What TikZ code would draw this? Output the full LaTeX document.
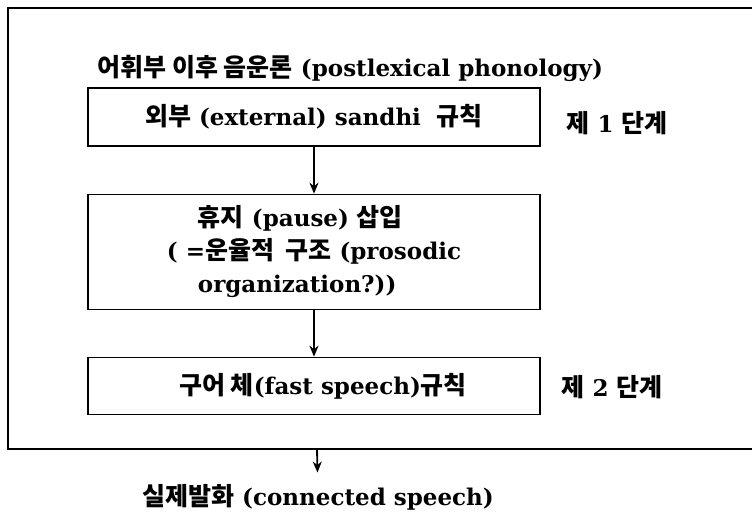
\documentclass[tikz,border=0pt]{standalone}
\usepackage{fontspec}
\setmainfont{DejaVu Serif}
\newfontfamily\krfont{Noto Sans CJK KR Bold}
\newcommand{\kor}[1]{{\krfont\fontsize{25}{33}\selectfont #1}}
\usetikzlibrary{arrows.meta}

\begin{document}
\begin{tikzpicture}[x=1pt,y=-1pt,
  every node/.style={font=\fontsize{23}{33}\selectfont\bfseries},
  rulebox/.style={draw,line width=1.6pt,minimum width=452pt,inner sep=0pt},
  flow/.style={-{Stealth[length=11pt,width=9pt]},line width=1.8pt}]
  \useasboundingbox (0,0) rectangle (752,518);
  % frame of the postlexical part, open at the right
  \draw[line width=2.2pt] (760,8) -- (8,8) -- (8,449) -- (760,449);
  \coordinate (framebot) at (317,449);
  \node[anchor=west] (title) at (94,68) {\kor{어휘부 이후 음운론} (postlexical phonology)};
  \node[rulebox,minimum height=58pt] (sandhi) at (314,117) {\kor{외부} (external) sandhi \ \kor{규칙}};
  \node[anchor=west] (stage1) at (563,123) {\kor{제} 1 \kor{단계}};
  \node[rulebox,minimum height=115pt,align=left] (pause) at (314,252) {\hspace*{31pt}\kor{휴지} (pause) \kor{삽입}\\( =\kor{운율적 \ 구조} (prosodic\\\hspace*{31pt}organization?))};
  \node[rulebox,minimum height=57pt] (fast) at (314,386) {\hspace*{18pt}\kor{구어 체}(fast speech)\kor{규칙}};
  \node[anchor=west] (stage2) at (558,387) {\kor{제} 2 \kor{단계}};
  \node (speech) at (318,497) {\kor{실제발화} (connected speech)};
  \draw[flow] (sandhi) -- (pause);
  \draw[flow] (pause) -- (fast);
  \draw[flow,shorten >=8pt] (framebot) -- (speech);
\end{tikzpicture}
\end{document}
